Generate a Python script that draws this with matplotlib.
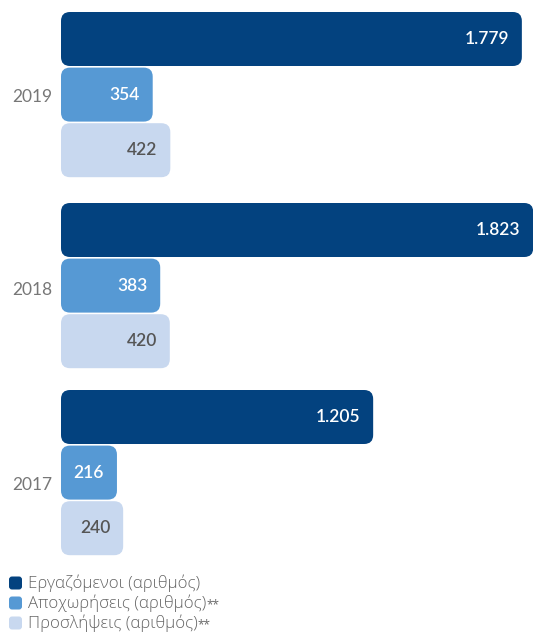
import matplotlib
matplotlib.use("Agg")
import matplotlib.pyplot as plt
from matplotlib.patches import FancyBboxPatch

# Data
years = ["2019", "2018", "2017"]
series_names = ["Εργαζόμενοι (αριθμός)", "Αποχωρήσεις (αριθμός)", "Προσλήψεις (αριθμός)"]
series_notes = ["", "**", "**"]
employees = [1779, 1823, 1205]
departures = [354, 383, 216]
hires = [422, 420, 240]
value_labels = [["1.779", "354", "422"], ["1.823", "383", "420"], ["1.205", "216", "240"]]

colors = ["#03427F", "#5699D4", "#C8D8EF"]
text_colors = ["white", "white", "#555555"]

W, H, DPI = 533, 635, 100
fig = plt.figure(figsize=(W / DPI, H / DPI), dpi=DPI)

# Main axes: x in data units, y in pixel rows (top = 0)
ax_left, ax_right = 61, 533
ax_top, ax_bottom = 0, 565
ax = fig.add_axes([ax_left / W, 1 - ax_bottom / H, (ax_right - ax_left) / W, (ax_bottom - ax_top) / H])
xmax = 1822
ax.set_xlim(0, xmax)
ax.set_ylim(ax_bottom - ax_top, 0)
ax.axis("off")

px_per_x = (ax_right - ax_left) / xmax
aspect = px_per_x  # y unit = 1 px
radius_px = 9

group_tops = [12, 203, 390]
bar_h = 54
pitch = 55.6
year_label_y = [97.5, 290, 485]

value_font = dict(family=["Lato", "DejaVu Sans"], fontsize=12.5, fontweight="semibold")

for g, year in enumerate(years):
    vals = [employees[g], departures[g], hires[g]]
    for s, v in enumerate(vals):
        y0 = group_tops[g] + s * pitch
        patch = FancyBboxPatch((0, y0), v, bar_h,
                               boxstyle=f"round,pad=0,rounding_size={radius_px / px_per_x}",
                               mutation_aspect=aspect,
                               facecolor=colors[s], edgecolor="none", clip_on=False)
        ax.add_patch(patch)
        ax.annotate(value_labels[g][s], xy=(v, y0 + bar_h / 2), xytext=(-13, 0),
                    textcoords="offset pixels", ha="right", va="center",
                    color=text_colors[s], **value_font)
    ax.text(-9 / px_per_x, year_label_y[g], year, ha="right", va="center",
            color="#777777", fontsize=12.5, family=["Lato", "DejaVu Sans"], clip_on=False)

# Legend axes in pixel units
lax = fig.add_axes([0, 0, 1, 1 - 565 / H])
lax.set_xlim(0, W)
lax.set_ylim(H, 565)
lax.axis("off")
legend_rows = [583, 603, 623]
for name, note, c, y in zip(series_names, series_notes, colors, legend_rows):
    sq = FancyBboxPatch((9, y - 6.5), 13, 13, boxstyle="round,pad=0,rounding_size=3",
                        facecolor=c, edgecolor="none")
    lax.add_patch(sq)
    t = lax.text(28, y, name, ha="left", va="center", color="#666666", fontsize=12.2,
                 family=["Open Sans", "DejaVu Sans"], fontweight="light")
    if note:
        lax.annotate(note, xy=(1, 1), xycoords=t, xytext=(0, -4),
                     textcoords="offset pixels", ha="left", va="top",
                     color="#666666", fontsize=8.5, family=["Open Sans", "DejaVu Sans"])

fig.savefig("out.png", dpi=DPI)
